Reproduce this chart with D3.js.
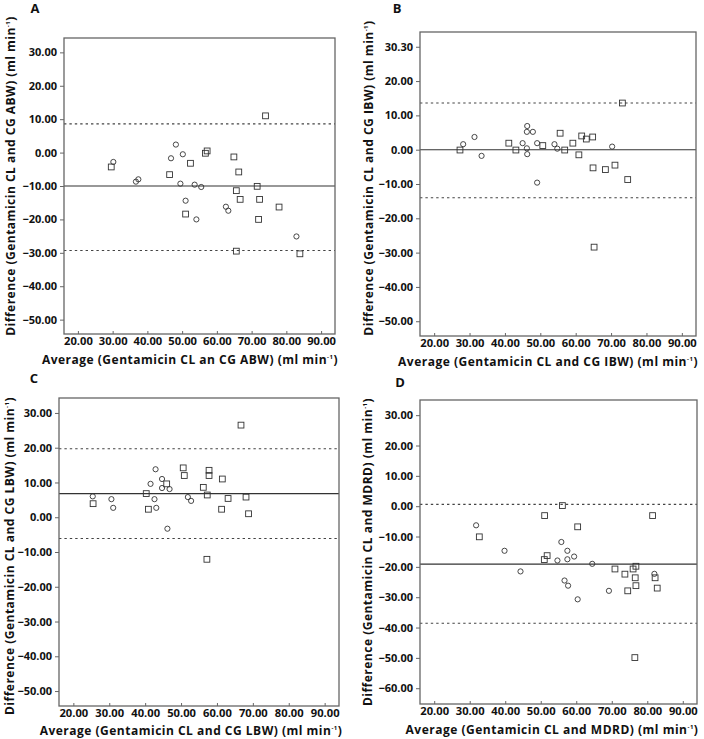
<!DOCTYPE html>
<html>
<head>
<meta charset="utf-8">
<script src="https://cdn.jsdelivr.net/npm/d3@7/dist/d3.min.js"></script>
<style>
  body { margin: 0; background: #fff; }
  svg { display: block; }
  text { font-family: "Open Sans", Lato, sans-serif; font-weight: 700; fill: #111; }
</style>
</head>
<body>
<svg id="chart" width="704" height="739"></svg>
<script>
// ---------- DATA ----------
// Panel A: CG ABW
const aCircles = [[30.2,-2.8],[36.7,-8.7],[37.4,-8.0],[48.2,2.4],[46.8,-1.7],[50.2,-0.5],[49.5,-9.3],[53.6,-9.6],[55.5,-10.3],[51.0,-14.4],[54.1,-20.0],[62.6,-16.2],[63.3,-17.4],[82.9,-25.1]];
const aSquares = [[29.6,-4.3],[74.0,11.0],[56.7,-0.2],[57.2,0.5],[52.4,-3.2],[46.4,-6.6],[64.9,-1.3],[66.3,-5.8],[71.6,-10.1],[65.6,-11.4],[66.7,-14.0],[72.3,-14.0],[77.9,-16.3],[51.0,-18.4],[72.0,-20.0],[65.6,-29.5],[83.9,-30.3]];
const aLimits = [8.6, -10.0, -29.3];   // upper, mean, lower

// Panel B: CG IBW
const bCircles = [[28.2,1.6],[31.4,3.7],[33.4,-1.8],[45.0,1.9],[46.3,6.9],[46.2,5.2],[47.9,5.2],[46.2,0.4],[46.3,-1.3],[49.1,1.9],[49.1,-9.6],[54.0,1.6],[54.8,0.3],[70.3,0.9]];
const bSquares = [[27.3,-0.1],[41.1,1.9],[43.1,-0.1],[50.7,1.2],[55.6,4.8],[56.9,-0.1],[59.2,1.9],[60.9,-1.5],[61.7,4.0],[63.0,3.1],[64.8,3.7],[64.9,-5.3],[68.4,-5.8],[71.1,-4.5],[74.7,-8.7],[73.2,13.6],[65.2,-28.4]];
const bLimits = [13.6, 0.0, -14.0];

// Panel C: CG LBW
const cCircles = [[25.4,6.0],[30.6,5.2],[31.1,2.7],[41.5,9.6],[42.9,13.8],[42.6,5.2],[43.1,2.7],[44.7,11.0],[44.7,8.4],[46.8,8.1],[46.2,-3.3],[51.9,5.8],[52.8,4.7]];
const cSquares = [[25.5,3.9],[40.3,6.8],[40.9,2.3],[46.0,9.6],[50.6,14.2],[50.9,12.0],[56.2,8.6],[57.3,6.4],[57.8,13.5],[57.8,12.0],[61.5,11.0],[61.3,2.3],[63.1,5.4],[68.1,5.8],[68.8,1.0],[66.7,26.5],[57.2,-12.1]];
const cLimits = [19.7, 6.8, -6.1];

// Panel D: MDRD
const dCircles = [[31.8,-6.3],[39.8,-14.7],[44.3,-21.5],[55.8,-11.8],[54.7,-17.9],[57.5,-14.7],[57.5,-17.5],[59.4,-16.6],[56.7,-24.5],[57.7,-26.2],[60.4,-30.7],[64.5,-19.0],[69.2,-27.9],[82.0,-22.3]];
const dSquares = [[32.7,-10.1],[51.1,-3.1],[56.1,0.2],[60.4,-6.8],[51.8,-16.3],[51.0,-17.6],[70.9,-20.7],[73.7,-22.4],[74.5,-27.9],[76.0,-20.7],[76.8,-19.8],[76.6,-23.6],[76.8,-26.2],[82.2,-23.6],[82.8,-27.0],[81.5,-3.1],[76.5,-49.9]];
const dLimits = [0.6, -19.1, -38.6];

// Tick values / labels
const xTicks = [20, 30, 40, 50, 60, 70, 80, 90];
const yTicksABC = [30, 20, 10, 0, -10, -20, -30, -40, -50];
const yTicksD = [30, 20, 10, 0, -10, -20, -30, -40, -50, -60];
const bYTickLabels = ["30.30", "20.00", "10.00", "0.00", "\u221210.00", "\u221220.00", "\u221230.00", "\u221240.00", "\u221250.00"];

const panelLetters = ["A", "B", "C", "D"];
const xTitles = [
  "Average (Gentamicin CL an CG ABW) (ml min",
  "Average (Gentamicin CL and CG IBW) (ml min",
  "Average (Gentamicin CL and CG LBW) (ml min",
  "Average (Gentamicin CL and MDRD) (ml min"
];
const yTitles = [
  "Difference (Gentamicin CL and CG ABW) (ml min",
  "Difference (Gentamicin CL and CG IBW) (ml min",
  "Difference (Gentamicin CL and CG LBW) (ml min",
  "Difference (Gentamicin CL and MDRD) (ml min"
];

// ---------- LAYOUT ----------
const panels = [
  { letter: 0, circles: aCircles, squares: aSquares, limits: aLimits, yTicks: yTicksABC, yDom: [-54.3, 34.3],
    box: { l: 64, r: 335, t: 38, b: 334 }, letterPos: [35, 8], xTitle: [190, 364], yTitleX: 15, yTitleY: 176 },
  { letter: 1, circles: bCircles, squares: bSquares, limits: bLimits, yTicks: yTicksABC, yDom: [-54.3, 34.3], yLabels: bYTickLabels,
    box: { l: 420, r: 696, t: 32, b: 336 }, letterPos: [397, 8], xTitle: [548, 366], yTitleX: 373, yTitleY: 178 },
  { letter: 2, circles: cCircles, squares: cSquares, limits: cLimits, yTicks: yTicksABC, yDom: [-54.3, 34.3],
    box: { l: 59, r: 339, t: 398, b: 706 }, letterPos: [34, 378], xTitle: [191, 734.5], yTitleX: 14, yTitleY: 556 },
  { letter: 3, circles: dCircles, squares: dSquares, limits: dLimits, yTicks: yTicksD, yDom: [-65.2, 35],
    box: { l: 420, r: 697, t: 400, b: 704 }, letterPos: [400, 382], xTitle: [552, 734], yTitleX: 372, yTitleY: 552 }
];

const svg = d3.select("#chart");
const fmt = d3.format(".2f");
const tickFont = "Lato, 'Open Sans', sans-serif";

function addTitle(sel, label) {
  sel.append("tspan").text(label);
  sel.append("tspan").attr("font-size", 6).attr("dy", -5).text("-1");
  sel.append("tspan").attr("dy", 5).text(")");
}

panels.forEach((p, i) => {
  const bx = p.box;
  const x = d3.scaleLinear().domain([16, 94]).range([bx.l, bx.r]);
  const y = d3.scaleLinear().domain(p.yDom).range([bx.b, bx.t]);
  const g = svg.append("g");

  const clipId = "clip" + i;
  g.append("clipPath").attr("id", clipId).append("rect")
    .attr("x", bx.l).attr("y", bx.t).attr("width", bx.r - bx.l).attr("height", bx.b - bx.t);

  // limit lines
  const lg = g.append("g").attr("clip-path", `url(#${clipId})`);
  p.limits.forEach((v, k) => {
    lg.append("line")
      .attr("x1", bx.l).attr("x2", bx.r)
      .attr("y1", y(v)).attr("y2", y(v))
      .attr("stroke", k === 1 ? "#333" : "#444")
      .attr("stroke-width", 1.1)
      .attr("stroke-dasharray", k === 1 ? null : "2.4,3");
  });

  // x axis (ticks inside)
  const xAxis = d3.axisBottom(x).tickValues(xTicks).tickSize(-3).tickPadding(3).tickFormat(fmt);
  const xg = g.append("g").attr("transform", `translate(0,${bx.b})`).call(xAxis);
  xg.select(".domain").remove();
  xg.selectAll(".tick line").attr("stroke", "#666");
  xg.selectAll(".tick text").attr("font-size", 11.2).attr("font-family", tickFont)
    .attr("font-weight", 900).attr("fill", "#111").attr("dy", "0.75em");

  // y axis (ticks outside)
  const yAxis = d3.axisLeft(y).tickValues(p.yTicks).tickSize(4).tickPadding(3)
    .tickFormat((d, j) => p.yLabels ? p.yLabels[j] : fmt(d));
  const yg = g.append("g").attr("transform", `translate(${bx.l},0)`).call(yAxis);
  yg.select(".domain").remove();
  yg.selectAll(".tick line").attr("stroke", "#666");
  yg.selectAll(".tick text").attr("font-size", 11).attr("font-family", tickFont)
    .attr("font-weight", 900).attr("fill", "#111");

  // frame
  g.append("rect").attr("x", bx.l).attr("y", bx.t).attr("width", bx.r - bx.l).attr("height", bx.b - bx.t)
    .attr("fill", "none").attr("stroke", "#666").attr("stroke-width", 1.3);

  // markers
  const mg = g.append("g").attr("clip-path", `url(#${clipId})`);
  mg.selectAll("rect.sq").data(p.squares).enter().append("rect").attr("class", "sq")
    .attr("x", d => x(d[0]) - 2.9).attr("y", d => y(d[1]) - 2.9)
    .attr("width", 5.8).attr("height", 5.8)
    .attr("fill", "none").attr("stroke", "#333").attr("stroke-width", 0.9);
  mg.selectAll("circle.ci").data(p.circles).enter().append("circle").attr("class", "ci")
    .attr("cx", d => x(d[0])).attr("cy", d => y(d[1])).attr("r", 2.6)
    .attr("fill", "none").attr("stroke", "#333").attr("stroke-width", 0.9);

  // panel letter
  svg.append("text").attr("x", p.letterPos[0]).attr("y", p.letterPos[1]).attr("dy", "0.35em")
    .attr("text-anchor", "middle").attr("font-size", 13).attr("font-weight", 800).text(panelLetters[p.letter]);

  // x title (y = baseline)
  const xt = svg.append("text").attr("x", p.xTitle[0]).attr("y", p.xTitle[1])
    .attr("text-anchor", "middle").attr("font-size", 12).attr("letter-spacing", 0.5).attr("font-weight", 700);
  addTitle(xt, xTitles[p.letter]);

  // y title
  const yt = svg.append("text").attr("transform", `translate(${p.yTitleX},${p.yTitleY}) rotate(-90)`)
    .attr("text-anchor", "middle").attr("font-size", 12).attr("letter-spacing", 0.5).attr("font-weight", 700);
  addTitle(yt, yTitles[p.letter]);
});
</script>
</body>
</html>
